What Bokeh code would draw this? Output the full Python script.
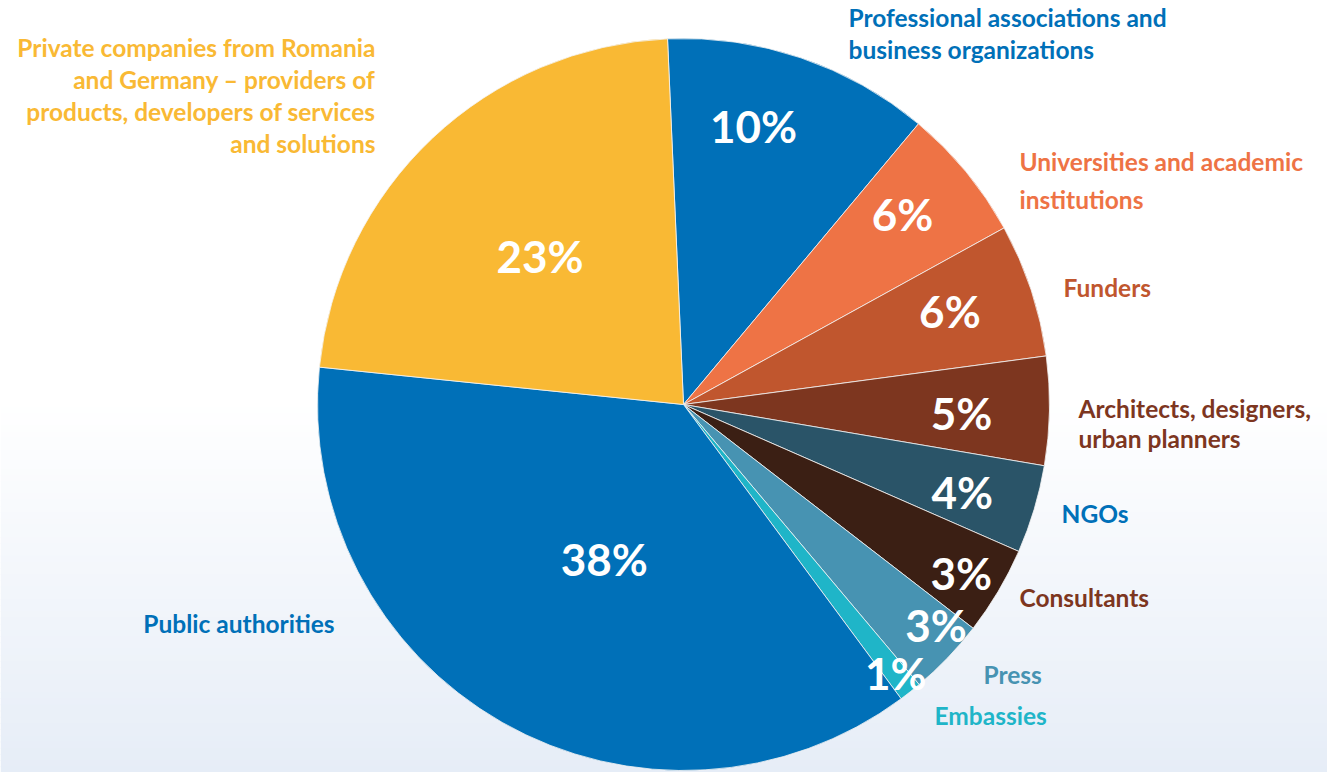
import math
from bokeh.plotting import figure
from bokeh.models import Range1d, ColumnDataSource
from bokeh.core.properties import value
from bokeh.embed import file_html
from bokeh.resources import INLINE

# ---------------- data ----------------
categories = ["Professional associations and business organizations",
              "Universities and academic institutions",
              "Funders",
              "Architects, designers, urban planners",
              "NGOs",
              "Consultants",
              "Press",
              "Embassies",
              "Public authorities",
              "Private companies from Romania and Germany – providers of products, developers of services and solutions"]
# slice sizes as drawn (share of the circle, %)
shares = [11.8, 5.9, 5.9, 4.8, 3.9, 3.9, 3.4, 1.0, 36.8, 22.7]
# printed percentage labels
pct_labels = ["10%", "6%", "6%", "5%", "4%", "3%", "3%", "1%", "38%", "23%"]
colors = ["#0070b8", "#ee7345", "#c0562e", "#7d361f", "#2a5468",
          "#3b1f14", "#4793b2", "#1fb5c8", "#0070b8", "#f9b934"]

# ---------------- layout ----------------
W, H = 1327, 772
CX, CY = 683, H - 404
R = 366
START = -2.5  # degrees clockwise from 12 o'clock
label_r = [0.78, 0.79, 0.77, 0.76, 0.80, 0.89, 0.92, 0.94, 0.48, 0.56]
label_shift = [-4.5, -1.3, -0.8, 1.2, 1.2, 0.8, -2.4, 0.2, -2.9, -1.1]

p = figure(width=W, height=H, output_backend="svg", toolbar_location=None,
           x_range=Range1d(0, W), y_range=Range1d(0, H),
           min_border=0, border_fill_color="white", background_fill_color="white")
p.xaxis.visible = False
p.yaxis.visible = False
p.grid.visible = False
p.outline_line_color = None

# background gradient (white at top to pale blue at bottom)
n = 60
g0, g1 = 400, H
top_c = (255, 255, 255)
bot_c = (230, 237, 247)
bl, br, bt, bb, bc = [], [], [], [], []
for i in range(n):
    t = (i + 0.5) / n
    y_top = g0 + (g1 - g0) * i / n
    y_bot = g0 + (g1 - g0) * (i + 1) / n
    c = tuple(int(round(top_c[k] + (bot_c[k] - top_c[k]) * t)) for k in range(3))
    bl.append(0); br.append(W)
    bt.append(H - y_top); bb.append(H - y_bot - 1)
    bc.append("#%02x%02x%02x" % c)
p.quad(left=bl, right=br, top=bt, bottom=bb, fill_color=bc, line_color=None)

# wedges
total = sum(shares)
starts, ends, mids = [], [], []
acc = START
for s in shares:
    a0 = acc
    a1 = acc + 360.0 * s / total
    starts.append(math.radians(90 - a0))
    ends.append(math.radians(90 - a1))
    mids.append((a0 + a1) / 2)
    acc = a1

src = ColumnDataSource(dict(start=starts, end=ends, color=colors, cat=categories))
p.wedge(x=CX, y=CY, radius=R, start_angle="start", end_angle="end",
        direction="clock", fill_color="color", line_color="#f4f4f4",
        line_width=0.8, source=src)

# percentage labels
lx, ly = [], []
for m, rf, sh in zip(mids, label_r, label_shift):
    a = math.radians(90 - (m + sh))
    lx.append(CX + R * rf * math.cos(a))
    ly.append(CY + R * rf * math.sin(a) + 2)
p.text(x=lx, y=ly, text=pct_labels, text_color="white",
       text_font=value("Lato"), text_font_style="bold", text_font_size="44px",
       text_align="center", text_baseline="middle")

# outer category labels: (lines, x, first-line y (screen), spacing, align, color)
outer = [
    (["Professional associations and", "business organizations"], 848, 17, 32, "left", colors[0]),
    (["Universities and academic", "institutions"], 1019, 161, 38, "left", colors[1]),
    (["Funders"], 1063, 287, 32, "left", colors[2]),
    (["Architects, designers,", "urban planners"], 1078, 408, 30, "left", colors[3]),
    (["NGOs"], 1061, 513, 32, "left", colors[0]),
    (["Consultants"], 1019, 597, 32, "left", colors[3]),
    (["Press"], 983, 674, 32, "left", colors[6]),
    (["Embassies"], 934, 715, 32, "left", colors[7]),
    (["Public authorities"], 334, 623, 32, "right", colors[8]),
    (["Private companies from Romania", "and Germany – providers of",
      "products, developers of services", "and solutions"], 375, 47, 32, "right", colors[9]),
]
for lines, x, y0, sp, al, col in outer:
    xs = [x] * len(lines)
    ys = [H - (y0 + sp * i) for i in range(len(lines))]
    p.text(x=xs, y=ys, text=lines, text_color=col,
           text_font=value("Lato"), text_font_style="bold", text_font_size="24.5px",
           text_align=al, text_baseline="middle")

open("out.html", "w").write(file_html(p, INLINE))
